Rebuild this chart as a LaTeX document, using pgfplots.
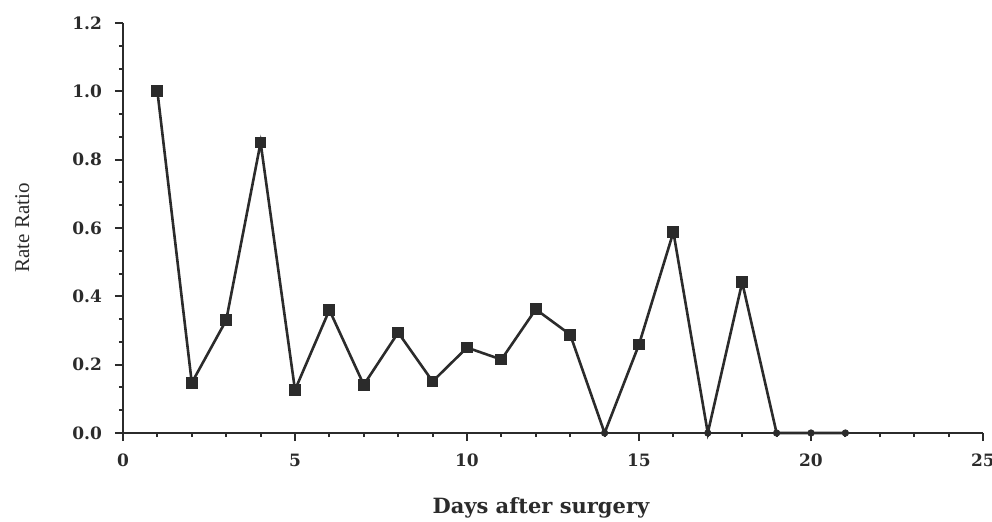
\documentclass[border=0pt]{standalone}
\usepackage{fontspec}
\setmainfont{DejaVu Serif}
\newfontfamily\timesf{Liberation Serif}
\usepackage{pgfplots}
\pgfplotsset{compat=1.18}
\definecolor{ink}{HTML}{2B2B2B}
\pgfplotstableread{
x y
1 1.00
2 0.147
3 0.33
4 0.85
5 0.126
6 0.36
7 0.141
8 0.294
9 0.151
10 0.25
11 0.215
12 0.362
13 0.288
14 0.0
15 0.259
16 0.588
17 0.0
18 0.441
19 0.0
20 0.0
21 0.0
}\rrdata
\pgfplotstableread{
x y
14 0
17 0
19 0
20 0
21 0
}\zerodata
\begin{document}
\begin{tikzpicture}
\useasboundingbox (-61.5pt,-44pt) rectangle (434.5pt,216.5pt);
\begin{axis}[
  at={(0,0)}, anchor=south west,
  scale only axis,
  width=430pt, height=205pt,
  xmin=0, xmax=25, ymin=0, ymax=1.2,
  axis x line=bottom, axis y line=left,
  axis line style={-, ink, line width=1.2pt},
  xtick={0,5,...,25},
  ytick={0,0.2,...,1.2},
  minor x tick num=4,
  minor y tick num=2,
  tick align=outside,
  major tick length=4pt,
  minor tick length=2pt,
  tick style={ink, line width=1pt},
  /pgf/number format/assume math mode=true,
  yticklabel style={/pgf/number format/fixed, /pgf/number format/fixed zerofill, /pgf/number format/precision=1, font=\fontsize{8.5}{9}\selectfont\bfseries, text=ink, xshift=-3pt},
  xticklabel style={font=\fontsize{8.5}{9}\selectfont\bfseries, text=ink, yshift=-3pt},
  xlabel={Days after surgery},
  ylabel={Rate Ratio},
  xlabel style={at={(axis description cs:0.486,-0.183)}, anchor=center, font=\fontsize{10.5}{12}\selectfont\bfseries, text=ink},
  ylabel style={at={(axis description cs:-0.117,0.5)}, anchor=center, rotate=0, font=\timesf\fontsize{10.5}{12}\selectfont, text=ink},
  clip=false,
]
\addplot[ink, line width=1.3pt, mark=square*, mark size=2.3pt, mark indices={1,2,3,4,5,6,7,8,9,10,11,12,13,15,16,18}] table[x=x,y=y] {\rrdata};
\addplot[only marks, ink, mark=*, mark size=1.6pt] table[x=x,y=y] {\zerodata};
\end{axis}
\end{tikzpicture}
\end{document}
